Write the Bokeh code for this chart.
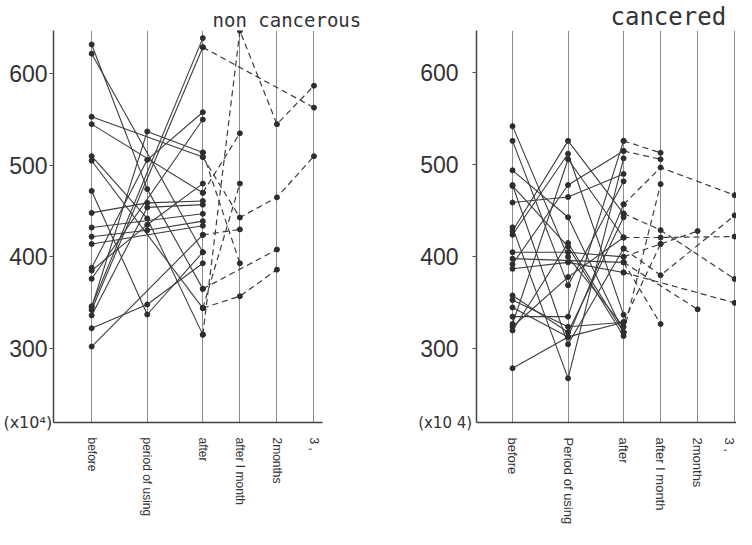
import math
from bokeh.plotting import figure
from bokeh.layouts import row
from bokeh.models import Range1d, FixedTicker
from bokeh.embed import file_html
from bokeh.resources import INLINE

nan = float("nan")

# ---- categories (time points) ----
stages_left = ["before", "period of using", "after", "after I month", "2months", "3 ,"]
stages_right = ["before", "Period of using", "after", "after I month", "2months", "3 ,"]
stage_pos = [0.0, 1.5, 3.0, 4.0, 5.0, 6.0]
y_ticks = [300, 400, 500, 600]

# ---- non cancerous: solid lines before -> period of using -> after ----
nc_before = [632, 622, 553, 545, 510, 505, 472, 448, 432, 422, 414, 388, 376, 346, 342, 345, 336, 322, 302, 385]
nc_period = [474, nan, nan, nan, 442, nan, 337, 459, nan, 429, nan, 506, nan, nan, nan, 537, 454, 348, nan, 435]
nc_after = [365, 405, 509, 470, 315, 344, 405, 461, 447, 439, 434, 558, 550, 639, 629, 514, 457, 393, 424, 480]

# ---- non cancerous: dashed follow-up after -> 1 month -> 2 months -> 3 months ----
nc_fu_after = [629, 315, 470, 509, 424, 344, 365, 514, 344]
nc_fu_1m = [nan, 647, 535, 443, 430, 357, nan, 393, 480]
nc_fu_2m = [nan, 545, nan, 465, nan, 386, 408, nan, nan]
nc_fu_3m = [563, 587, nan, 510, nan, nan, nan, nan, nan]

# ---- cancered: solid lines ----
ca_before = [542, 526, 494, 478, 477, 459, 432, 428, 424, 405, 398, 392, 387, 358, 353, 345, 335, 327, 324, 320, 279]
ca_period = [400, 369, 443, 305, 411, 465, 268, 526, 512, 405, nan, 478, 394, 318, 324, 313, 335, 506, 378, 415, 313]
ca_after = [324, 482, 318, 409, 314, 490, 507, 447, 337, 400, 394, 515, 383, 443, 329, 457, 526, 421, 421, 318, 329]

# ---- cancered: dashed follow-up ----
ca_fu_after = [526, 515, 457, 421, 400, 409, 447, 394, 394, 383, 318, 329]
ca_fu_1m = [513, 506, 497, 421, 414, 380, 429, nan, 327, nan, 479, 414]
ca_fu_2m = [nan, nan, nan, nan, 428, nan, nan, 343, nan, nan, nan, nan]
ca_fu_3m = [nan, nan, 467, 422, nan, 445, 376, nan, nan, 350, nan, nan]

LINE = "#3c3c3c"
DOT = "#2e2e2e"


def paths(columns, positions):
    xs, ys = [], []
    for vals in zip(*columns):
        px = [p for p, v in zip(positions, vals) if not math.isnan(v)]
        py = [v for v in vals if not math.isnan(v)]
        xs.append(px)
        ys.append(py)
    return xs, ys


def make_panel(labels, x_range, y_range, borders, solid, dashed,
               ylabel_standoff, xlabel_size, title, title_offset, title_size,
               unit_text, unit_standoff, unit_size):
    left, right, top, bottom = borders
    p = figure(width=368, height=529, x_range=x_range, y_range=y_range,
               output_backend="svg", toolbar_location=None, title=title,
               min_border_left=left, min_border_right=right,
               min_border_top=top, min_border_bottom=bottom)
    p.outline_line_color = None
    p.background_fill_color = "white"

    p.title.align = "left"
    p.title.offset = title_offset
    p.title.text_font = "DejaVu Sans Mono"
    p.title.text_font_size = title_size
    p.title.text_font_style = "normal"
    p.title.text_color = "#333333"
    if hasattr(p.title, "standoff"):
        p.title.standoff = 0

    p.xgrid.ticker = FixedTicker(ticks=stage_pos)
    p.xgrid.grid_line_color = "#8c8c8c"
    p.xgrid.grid_line_width = 1
    p.ygrid.visible = False

    p.xaxis.ticker = FixedTicker(ticks=stage_pos)
    p.xaxis.major_label_overrides = {pos: lab for pos, lab in zip(stage_pos, labels)}
    p.xaxis.major_label_orientation = "vertical"
    p.xaxis.major_tick_line_color = None
    p.xaxis.minor_tick_line_color = None
    p.xaxis.major_label_standoff = 9
    p.xaxis.major_label_text_font = "Liberation Sans"
    p.xaxis.major_label_text_font_size = xlabel_size
    p.xaxis.major_label_text_color = "#333333"
    p.xaxis.axis_line_color = "#444444"
    p.xaxis.axis_line_width = 1.5

    p.yaxis.ticker = FixedTicker(ticks=y_ticks)
    p.yaxis.minor_tick_line_color = None
    p.yaxis.major_tick_out = 4
    p.yaxis.major_tick_in = 0
    p.yaxis.major_tick_line_color = "#555555"
    p.yaxis.major_label_standoff = ylabel_standoff
    p.yaxis.major_label_text_font = "Liberation Sans"
    p.yaxis.major_label_text_font_size = "23px"
    p.yaxis.major_label_text_color = "#333333"
    p.yaxis.axis_line_color = "#444444"
    p.yaxis.axis_line_width = 1.5

    # unit note "(x10^4)" shown as the y axis label, tucked under the tick labels
    p.yaxis.axis_label = unit_text
    p.yaxis.axis_label_orientation = "horizontal"
    p.yaxis.axis_label_standoff = unit_standoff
    p.yaxis.axis_label_text_font = "DejaVu Sans"
    p.yaxis.axis_label_text_font_size = unit_size
    p.yaxis.axis_label_text_font_style = "normal"
    p.yaxis.axis_label_text_color = "#333333"
    for ax in p.yaxis:
        if "axis_label_align" in ax.properties():
            ax.axis_label_align = "start"

    sx, sy = paths(solid, stage_pos[:3])
    p.multi_line(sx, sy, line_color=LINE, line_width=1.1)
    dx, dy = paths(dashed, stage_pos[2:])
    p.multi_line(dx, dy, line_color=LINE, line_width=1.2, line_dash="6 4")

    px = [x for xs in sx + dx for x in xs]
    py = [y for ys in sy + dy for y in ys]
    p.scatter(px, py, size=5, color=DOT)
    return p


p1 = make_panel(stages_left, Range1d(-1.03, 6.23), Range1d(219, 647.3),
                (48, 46, 24, 107),
                [nc_before, nc_period, nc_after],
                [nc_fu_after, nc_fu_1m, nc_fu_2m, nc_fu_3m],
                2, "12px", "non cancerous", 159, "19px",
                "(x10\u2074)", -46, "16px")

p2 = make_panel(stages_right, Range1d(-0.973, 6.05), Range1d(220, 645.9),
                (108, 0, 28, 102),
                [ca_before, ca_period, ca_after],
                [ca_fu_after, ca_fu_1m, ca_fu_2m, ca_fu_3m],
                14, "13px", "cancered", 134, "24px",
                "(x10 4)", -55, "15px")

layout = row(p1, p2)
open("out.html", "w").write(file_html(layout, INLINE))
